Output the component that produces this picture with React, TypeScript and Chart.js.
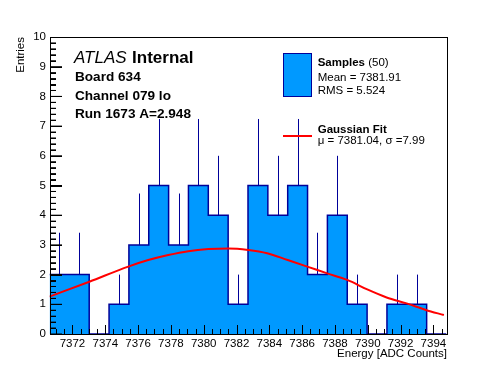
import { useEffect, useRef } from 'react';
import { Chart, registerables } from 'chart.js';

Chart.register(...registerables);

// ---- data ----
const binLow = 7370.6;
const binWidth = 1.21;
const counts = [2, 2, 0, 1, 3, 5, 3, 5, 4, 1, 5, 4, 5, 2, 4, 1, 0, 1, 1, 0];
const errUp = [1.41, 1.41, 0, 1, 1.73, 2.24, 1.73, 2.24, 2, 1, 2.24, 2, 2.24, 1.41, 2, 1, 0, 1, 1, 0];

const fitX = [7370.6, 7373.03, 7375.4, 7376.62, 7377.84, 7379.06, 7380.28, 7381.5, 7382.71, 7383.87, 7385.12, 7386.31, 7387.53, 7388.75, 7389.97, 7391.15, 7392.37, 7393.54, 7394.64];
const fitY = [1.26, 1.76, 2.27, 2.49, 2.66, 2.79, 2.86, 2.88, 2.83, 2.72, 2.49, 2.27, 2.04, 1.82, 1.5, 1.23, 1.03, 0.81, 0.64];

const xTickValues = [7372, 7374, 7376, 7378, 7380, 7382, 7384, 7386, 7388, 7390, 7392, 7394];
const yTickValues = [0, 1, 2, 3, 4, 5, 6, 7, 8, 9, 10];

const labelLines = ['Board 634', 'Channel 079 lo', 'Run 1673 A=2.948'];
const legendSamples = { title: 'Samples', count: '(50)', mean: 'Mean = 7381.91', rms: 'RMS = 5.524' };
const legendFit = { title: 'Gaussian Fit', params: 'μ = 7381.04, σ =7.99' };

const FONT = '"Liberation Sans", Arial, Helvetica, sans-serif';
const FILL = '#0099ff';
const LINE = '#000099';

const decor = {
  id: 'rootDecor',
  afterDatasetDraw(chart: any, args: any) {
    if (args.index !== 1) return;
    const { ctx, scales } = chart;
    ctx.save();
    ctx.fillStyle = LINE;
    counts.forEach((c, i) => {
      if (!c) return;
      const cx = Math.round(scales.x.getPixelForValue(binLow + (i + 0.5) * binWidth));
      const y0 = scales.y.getPixelForValue(c);
      const y1 = scales.y.getPixelForValue(c + errUp[i]);
      ctx.fillRect(cx, y1, 1, y0 - y1);
    });
    ctx.restore();
  },
  afterDraw(chart: any) {
    const { ctx, scales, chartArea } = chart;
    const left = Math.round(chartArea.left);
    const right = Math.round(chartArea.right);
    const top = Math.round(chartArea.top);
    const bottom = Math.round(chartArea.bottom);
    ctx.save();
    ctx.globalCompositeOperation = 'source-over';
    ctx.globalAlpha = 1;
    ctx.fillStyle = '#000000';
    // x ticks (inward)
    for (let k = Math.ceil(scales.x.min * 2); k <= Math.floor(scales.x.max * 2); k++) {
      const v = k / 2;
      const px = Math.round(scales.x.getPixelForValue(v));
      const h = xTickValues.includes(v) ? 9 : 5;
      ctx.fillRect(px, bottom - h, 1, h);
    }
    // y ticks (inward)
    for (let k = 0; k <= 50; k++) {
      const py = Math.round(scales.y.getPixelForValue(k / 5));
      const w = k % 5 === 0 ? 12 : 6;
      ctx.fillRect(left, py, w, 1);
    }
    // frame
    ctx.fillRect(left, top, right - left + 1, 1);
    ctx.fillRect(left, bottom, right - left + 1, 1);
    ctx.fillRect(left, top, 1, bottom - top + 1);
    ctx.fillRect(right, top, 1, bottom - top + 1);

    // axis titles
    ctx.font = `11.5px ${FONT}`;
    ctx.textAlign = 'right';
    ctx.textBaseline = 'alphabetic';
    ctx.fillText('Energy [ADC Counts]', right, 356.5);
    ctx.save();
    ctx.translate(24, 37);
    ctx.rotate(-Math.PI / 2);
    ctx.textAlign = 'right';
    ctx.fillText('Entries', 0, 0);
    ctx.restore();

    // ATLAS label
    ctx.textAlign = 'left';
    ctx.font = `italic 17px ${FONT}`;
    ctx.fillText('ATLAS', 74, 62.7);
    const aw = ctx.measureText('ATLAS').width;
    ctx.font = `bold 17px ${FONT}`;
    ctx.fillText('Internal', 74 + aw + 5.5, 62.7);
    ctx.font = `bold 13.6px ${FONT}`;
    const baselines = [81, 99.6, 118.3];
    labelLines.forEach((t, i) => ctx.fillText(t, 75, baselines[i]));

    // legend
    ctx.fillStyle = FILL;
    ctx.fillRect(283.5, 53.5, 28, 43);
    ctx.strokeStyle = LINE;
    ctx.lineWidth = 1;
    ctx.strokeRect(283.5, 53.5, 28, 43);
    ctx.fillStyle = '#ff0000';
    ctx.fillRect(283, 135, 29, 2);

    ctx.fillStyle = '#000';
    ctx.font = `bold 11.5px ${FONT}`;
    ctx.fillText(legendSamples.title, 317.7, 66);
    const sw = ctx.measureText(legendSamples.title + ' ').width;
    ctx.font = `11.5px ${FONT}`;
    ctx.fillText(legendSamples.count, 317.7 + sw, 66);
    ctx.fillText(legendSamples.mean, 317.7, 80.5);
    ctx.fillText(legendSamples.rms, 317.7, 94.3);
    ctx.font = `bold 11.5px ${FONT}`;
    ctx.fillText(legendFit.title, 317.7, 132.7);
    ctx.font = `11.5px ${FONT}`;
    ctx.fillText(legendFit.params, 317.7, 144);
    ctx.restore();
  },
};

export default function App() {
  const ref = useRef<HTMLCanvasElement | null>(null);
  useEffect(() => {
    if (!ref.current) return;
    const histPts = counts.map((c, i) => ({ x: binLow + i * binWidth, y: c }));
    histPts.push({ x: binLow + counts.length * binWidth, y: 0 });
    const fitPts = fitX.map((v, i) => ({ x: v, y: fitY[i] }));
    // y-axis tick marks drawn as short segments on a hidden pixel-unit axis
    const yTickMarks: any[] = [];
    for (let k = 0; k <= 50; k++) {
      const v = k / 5;
      const len = k % 5 === 0 ? 12 : 6;
      yTickMarks.push({ x: 0.5, y: v }, { x: 0.5 + len, y: v }, { x: 0.5 + len, y: null });
    }
    const tickFont = { family: FONT, size: 11.5 };
    const chart = new Chart(ref.current, {
      type: 'line',
      data: {
        datasets: [
          {
            label: 'Gaussian Fit',
            data: fitPts,
            borderColor: '#ff0000',
            borderWidth: 2,
            pointRadius: 0,
            fill: false,
            order: 0,
            cubicInterpolationMode: 'monotone',
          },
          {
            label: 'Samples',
            data: histPts,
            stepped: 'before',
            borderColor: LINE,
            borderWidth: 1.5,
            backgroundColor: FILL,
            pointRadius: 0,
            order: 1,
            fill: 'origin',
          },
          {
            label: 'yticks',
            data: yTickMarks,
            xAxisID: 'xpx',
            borderColor: '#000',
            borderWidth: 1,
            pointRadius: 0,
            fill: false,
            spanGaps: false,
            order: -1,
          },
        ],
      },
      options: {
        animation: false,
        responsive: false,
        devicePixelRatio: 1,
        layout: { padding: { top: 37, right: 49.5, left: 0, bottom: 0 } },
        plugins: { legend: { display: false }, tooltip: { enabled: false }, title: { display: false } },
        scales: {
          x: {
            type: 'linear',
            min: binLow,
            max: binLow + counts.length * binWidth,
            grid: { display: false, drawTicks: false },
            border: { display: false },
            ticks: { font: tickFont, color: '#000', padding: 3, maxRotation: 0, autoSkip: false, callback: (v: any) => String(v) },
            afterBuildTicks: (s: any) => { s.ticks = xTickValues.map((v) => ({ value: v })); },
            afterFit: (s: any) => { s.height = 38; },
          },
          xpx: {
            type: 'linear',
            display: false,
            min: 0,
            max: 397,
          },
          y: {
            type: 'linear',
            min: 0,
            max: 10,
            grid: { display: false, drawTicks: false },
            border: { display: false },
            ticks: { font: tickFont, color: '#000', padding: 3.5, autoSkip: false, callback: (v: any) => String(v) },
            afterBuildTicks: (s: any) => { s.ticks = yTickValues.map((v) => ({ value: v })); },
            afterFit: (s: any) => { s.width = 49.5; },
          },
        },
      },
      plugins: [decor],
    } as any);
    return () => chart.destroy();
  }, []);
  return (
    <div style={{ position: 'fixed', left: 0, top: 0, width: 496, height: 372, background: '#fff' }}>
      <canvas ref={ref} width={496} height={372} style={{ width: 496, height: 372, display: 'block' }} />
    </div>
  );
}
